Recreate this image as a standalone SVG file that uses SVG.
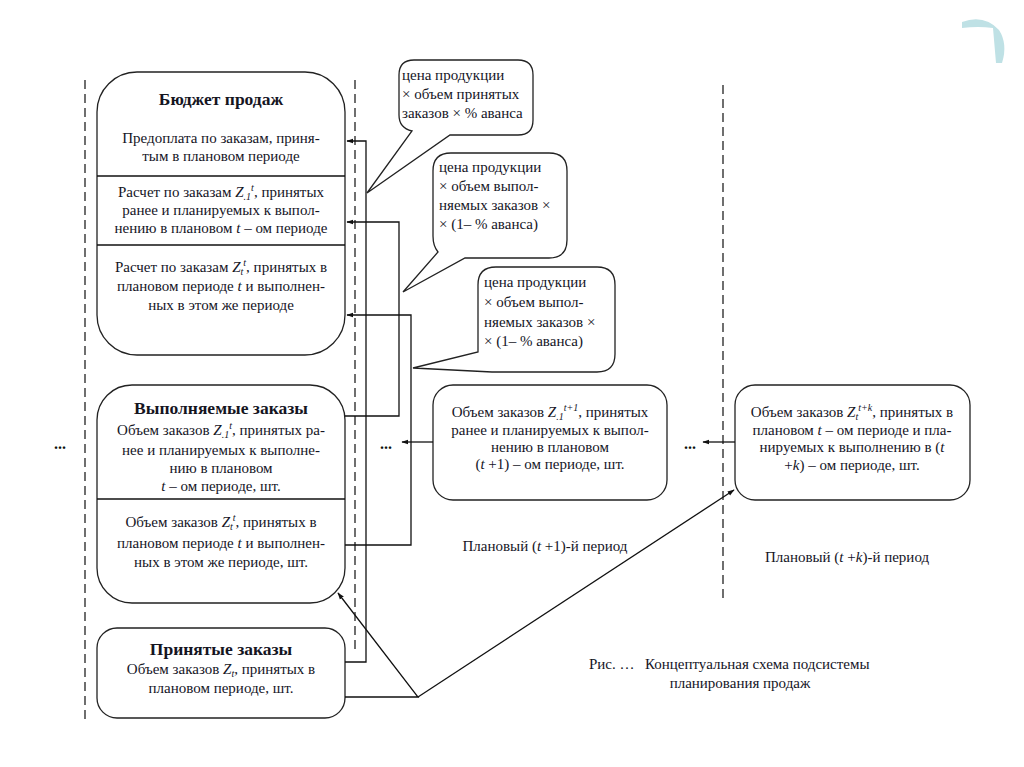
<svg xmlns="http://www.w3.org/2000/svg" width="1024" height="767" viewBox="0 0 1024 767">
<style>
.t{font-family:"Liberation Serif","DejaVu Serif",serif;font-size:15px;fill:#15151f;text-anchor:middle}
.l{text-anchor:start}
.b{font-weight:bold;font-size:17.5px}
.i{font-style:italic}
.s{font-size:10px;font-style:italic}
.box{fill:#fff;stroke:#222;stroke-width:1.3}
.dash{stroke:#222;stroke-width:1.3;stroke-dasharray:9 5;fill:none}
.ln{stroke:#111;stroke-width:1.3;fill:none}
.dots{font-family:"Liberation Serif",serif;font-size:16px;font-weight:bold;fill:#111;text-anchor:middle}
</style>
<defs>
<marker id="ar" viewBox="0 0 10 10" refX="9" refY="5" markerWidth="7" markerHeight="7" orient="auto-start-reverse" markerUnits="userSpaceOnUse">
<path d="M0,1.5 L10,5 L0,8.5 Z" fill="#111"/>
</marker>
</defs>
<rect width="1024" height="767" fill="#fff"/>
<path d="M962,22 Q984,14 999,30 Q1008,44 1002,63 L996,63 L993,28 Q978,26 962,28 Z" fill="#bfe1e5"/>

<g id="dashes">
<line class="dash" x1="85" y1="80" x2="85" y2="722"/>
<line class="dash" x1="355" y1="80" x2="355" y2="650"/>
<line class="dash" x1="723" y1="85" x2="723" y2="600"/>
</g>

<g id="budget">
<rect class="box" x="97" y="72" width="248" height="283" rx="40"/>
<line class="ln" x1="97" y1="176" x2="345" y2="176"/>
<line class="ln" x1="97" y1="245" x2="345" y2="245"/>
<text class="t b" x="221" y="105">Бюджет продаж</text>
<text class="t" x="221" y="143">Предоплата по заказам, приня-</text>
<text class="t" x="221" y="161">тым в плановом периоде</text>
<text class="t" x="221" y="197">Расчет по заказам <tspan class="i">Z</tspan><tspan class="s" dy="3">.1</tspan><tspan class="s" dy="-9">t</tspan><tspan dy="6">, принятых</tspan></text>
<text class="t" x="221" y="215">ранее и планируемых к выпол-</text>
<text class="t" x="221" y="233">нению в плановом <tspan class="i">t</tspan> – ом периоде</text>
<text class="t" x="221" y="272">Расчет по заказам <tspan class="i">Z</tspan><tspan class="s" dy="3">t</tspan><tspan class="s" dy="-9">t</tspan><tspan dy="6">, принятых в</tspan></text>
<text class="t" x="221" y="291">плановом периоде <tspan class="i">t</tspan> и выполнен-</text>
<text class="t" x="221" y="310">ных в этом же периоде</text>
</g>

<g id="fulfilled">
<rect class="box" x="97" y="385" width="248" height="218" rx="35"/>
<line class="ln" x1="97" y1="499" x2="345" y2="499"/>
<text class="t b" x="221" y="414">Выполняемые заказы</text>
<text class="t" x="221" y="435">Объем заказов <tspan class="i">Z</tspan><tspan class="s" dy="3">.1</tspan><tspan class="s" dy="-9">t</tspan><tspan dy="6">, принятых ра-</tspan></text>
<text class="t" x="221" y="455">нее и планируемых к выполне-</text>
<text class="t" x="221" y="473">нию в  плановом</text>
<text class="t" x="221" y="491"><tspan class="i">t</tspan> – ом периоде, шт.</text>
<text class="t" x="221" y="527">Объем заказов <tspan class="i">Z</tspan><tspan class="s" dy="3">t</tspan><tspan class="s" dy="-9">t</tspan><tspan dy="6">, принятых в</tspan></text>
<text class="t" x="221" y="548">плановом периоде <tspan class="i">t</tspan> и выполнен-</text>
<text class="t" x="221" y="567">ных в этом же периоде, шт.</text>
</g>

<g id="accepted">
<rect class="box" x="97" y="628" width="248" height="90" rx="20"/>
<text class="t b" x="221" y="655">Принятые заказы</text>
<text class="t" x="221" y="674">Объем заказов <tspan class="i">Z</tspan><tspan class="s" dy="3">t</tspan><tspan dy="-3">, принятых в</tspan></text>
<text class="t" x="221" y="693">плановом периоде, шт.</text>
</g>

<g id="callout1">
<path class="box" d="M414,60 H518 Q533,60 533,75 V120 Q533,135 518,135 H450 L367,193 L412,131 Q399,128 399,115 V75 Q399,60 414,60 Z"/>
<text class="t l" x="402" y="80">цена продукции</text>
<text class="t l" x="402" y="99">× объем принятых</text>
<text class="t l" x="402" y="118">заказов × % аванса</text>
</g>

<g id="callout2">
<path class="box" d="M451,153 H549 Q567,153 567,171 V240 Q567,258 549,258 H465 L403,292 L438,252 Q433,246 433,236 V171 Q433,153 451,153 Z"/>
<text class="t l" x="439" y="172">цена продукции</text>
<text class="t l" x="439" y="191">× объем выпол-</text>
<text class="t l" x="439" y="210">няемых заказов ×</text>
<text class="t l" x="439" y="229"> × (1– % аванса)</text>
</g>

<g id="callout3">
<path class="box" d="M496,267 H597 Q615,267 615,285 V354 Q615,372 597,372 H492 L413,368 L478,352 V285 Q478,267 496,267 Z"/>
<text class="t l" x="484" y="287">цена продукции</text>
<text class="t l" x="484" y="307">× объем выпол-</text>
<text class="t l" x="484" y="327">няемых заказов ×</text>
<text class="t l" x="484" y="346"> × (1– % аванса)</text>
</g>

<g id="next">
<rect class="box" x="433" y="385" width="234" height="115" rx="20"/>
<text class="t" x="550" y="417">Объем заказов <tspan class="i">Z</tspan><tspan class="s" dy="3">.1</tspan><tspan class="s" dy="-9">t+1</tspan><tspan dy="6">, принятых</tspan></text>
<text class="t" x="550" y="435">ранее и планируемых к выпол-</text>
<text class="t" x="550" y="452">нению в  плановом</text>
<text class="t" x="550" y="469">(<tspan class="i">t</tspan> +1) – ом периоде, шт.</text>
</g>

<g id="later">
<rect class="box" x="735" y="385" width="235" height="115" rx="20"/>
<text class="t" x="852" y="417">Объем заказов <tspan class="i">Z</tspan><tspan class="s" dy="3">t</tspan><tspan class="s" dy="-9">t+k</tspan><tspan dy="6">, принятых в</tspan></text>
<text class="t" x="852" y="435">плановом <tspan class="i">t</tspan> – ом периоде и пла-</text>
<text class="t" x="852" y="452">нируемых к выполнению в  (<tspan class="i">t</tspan></text>
<text class="t" x="852" y="470">+<tspan class="i">k</tspan>) – ом периоде, шт.</text>
</g>

<g id="connectors">
<polyline class="ln" points="345,662 366,662 366,141 347,141" marker-end="url(#ar)"/>
<polyline class="ln" points="345,416 399,416 399,222 347,222" marker-end="url(#ar)"/>
<polyline class="ln" points="345,545 411,545 411,315 347,315" marker-end="url(#ar)"/>
<polyline class="ln" points="345,697 418,697 338,593" marker-end="url(#ar)"/>
<line class="ln" x1="418" y1="697" x2="734" y2="490" marker-end="url(#ar)"/>
<line class="ln" x1="433" y1="442" x2="402" y2="442" marker-end="url(#ar)"/>
<line class="ln" x1="735" y1="442" x2="703" y2="442" marker-end="url(#ar)"/>
</g>

<g id="labels">
<text class="dots" x="60" y="449">...</text>
<text class="dots" x="386" y="449">...</text>
<text class="dots" x="690" y="449">...</text>
<text class="t" x="545" y="551">Плановый (<tspan class="i">t</tspan> +1)-й период</text>
<text class="t" x="847" y="562">Плановый (<tspan class="i">t</tspan> +<tspan class="i">k</tspan>)-й период</text>
<text class="t l" x="589" y="669">Рис. …</text>
<text class="t l" x="645" y="669">Концептуальная схема подсистемы</text>
<text class="t" x="740" y="688">планирования продаж</text>
</g>
</svg>
